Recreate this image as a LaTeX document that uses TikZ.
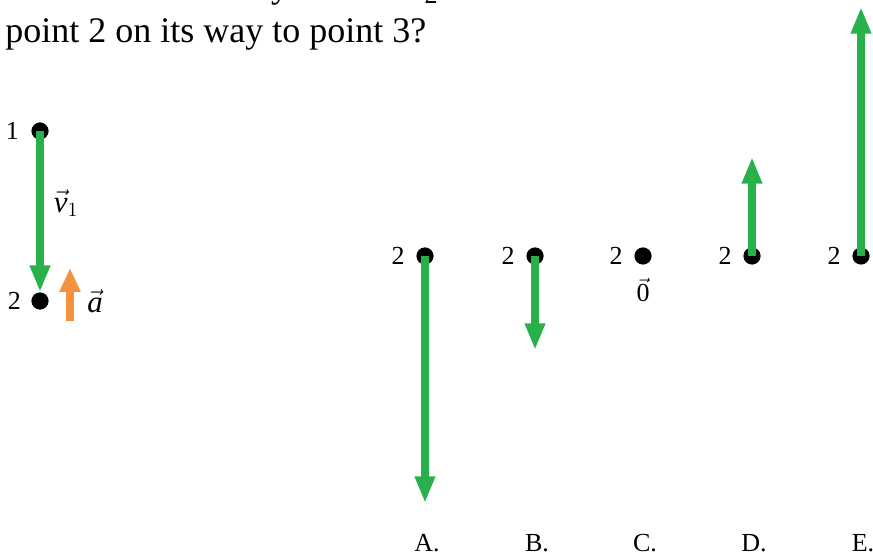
\documentclass[tikz,border=0pt]{standalone}
\usepackage{fontspec}
\setmainfont{Liberation Serif}
\usepackage{amsmath}
\usetikzlibrary{arrows.meta, positioning}
\definecolor{velgreen}{RGB}{40,176,74}
\definecolor{accorange}{RGB}{246,146,62}

\begin{document}
\begin{tikzpicture}[
    x=0.025cm, y=-0.025cm,
    every node/.style={font=\fontsize{18.5}{21}\selectfont, inner sep=0pt},
    vecname/.style={font=\fontsize{22}{24}\selectfont},
    dot/.style={circle, fill=black, minimum size=0.43cm},
    vel/.style={draw=velgreen, line width=5pt, -{Triangle[width=13.5pt, length=19pt]}},
    acc/.style={draw=accorange, line width=5pt, -{Triangle[width=14pt, length=17pt]}}
]
\useasboundingbox (0,0) rectangle (873,556);

% Question (first line cut off)
\begin{scope}
\clip (0,0) rectangle (873,556);
\node[anchor=base, font=\fontsize{25.6}{30}\selectfont] (cuty) at (280,-2) {y};
\node[anchor=base] (cutsub) at (431,4) {2};
\end{scope}
\node[anchor=base west, font=\fontsize{25.6}{30}\selectfont] (question) at (5,43) {point 2 on its way to point 3?};

% Motion from 1 to 2
\node[dot] (one) at (40,131) {};
\node[dot] (two) at (40,301) {};
\node[left=0.3cm of one] (numone) {1};
\node[left=0.25cm of two] (numtwo) {2};
\draw[vel] (one.center) -- (two.north);
\node[vecname] (vone) at (66,203) {$\vec{\textit{v}}_1$};

% Acceleration
\coordinate (accbase) at (70,321);
\coordinate (acctip) at (70,268);
\draw[acc] (accbase) -- (acctip);
\node[vecname, anchor=base] (accvec) at (95,313) {$\vec{\textit{a}}$};

% Answer choices
\foreach \x/\opt in {425/A, 535/B, 643/C, 752/D, 861/E} {
    \node[dot] (dot\opt) at (\x,256) {};
    \node[left=0.28cm of dot\opt] (num\opt) {2};
    \node[anchor=base] (lab\opt) at (\x+2,551) {\opt.};
}

% Velocities at point 2
\coordinate (tipA) at (425,503);
\coordinate (tipB) at (535,350);
\coordinate (tipD) at (752,157);
\coordinate (tipE) at (861,7);
\draw[vel] (dotA.center) -- (tipA);
\draw[vel] (dotB.center) -- (tipB);
\draw[vel] (dotD.center) -- (tipD);
\draw[vel] (dotE.center) -- (tipE);
\node[anchor=base] (zeroC) at (643,302) {$\vec{\textup{0}}$};

\end{tikzpicture}
\end{document}
